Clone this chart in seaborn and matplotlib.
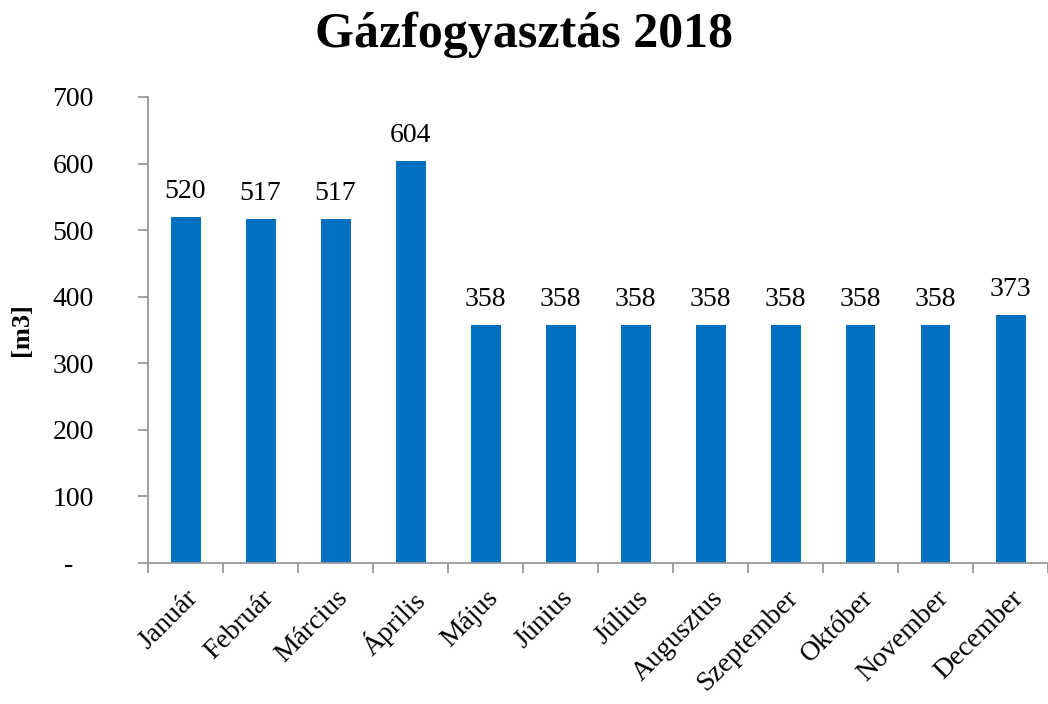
import matplotlib
matplotlib.use("Agg")
import matplotlib.pyplot as plt
import seaborn as sns
import pandas as pd
import numpy as np

months = ["Január", "Február", "Március", "Április", "Május", "Június",
          "Július", "Augusztus", "Szeptember", "Október", "November", "December"]
values = [520, 517, 517, 604, 358, 358, 358, 358, 358, 358, 358, 373]
yticks = [0, 100, 200, 300, 400, 500, 600, 700]
ytick_labels = ["-   ", "100", "200", "300", "400", "500", "600", "700"]

sns.set_style("white")
plt.rcParams["font.family"] = ["Liberation Serif", "DejaVu Serif"]
plt.rcParams["text.color"] = "black"
plt.rcParams["xtick.labelcolor"] = "black"
plt.rcParams["ytick.labelcolor"] = "black"
plt.rcParams["axes.labelcolor"] = "black"

df = pd.DataFrame({"month": months, "value": values})

fig = plt.figure(figsize=(10.48, 7.04), dpi=100)
ax = fig.add_axes([148/1048, 141/704, 900/1048, 466/704])

sns.barplot(data=df, x="month", y="value", color="#0070C0", width=0.4,
            saturation=1, linewidth=0, ax=ax)

ax.set_ylim(0, 700)
ax.set_xlim(-0.5, 11.5)
ax.set_yticks(yticks)
ax.set_yticklabels(ytick_labels, fontsize=20)
ax.set_xticks(range(len(months)))
ax.set_xticklabels(months, fontsize=20, rotation=45, ha="right",
                   rotation_mode="anchor")
ax.set_xticks(np.arange(-0.5, 12, 1), minor=True)
ax.tick_params(axis="x", which="major", length=0, pad=16)
ax.tick_params(axis="x", which="minor", length=7, width=1.3, color="#999999",
               direction="out", bottom=True)
ax.tick_params(axis="y", which="major", length=7, width=1.3, color="#999999",
               direction="out", left=True, pad=32)

for s in ["top", "right"]:
    ax.spines[s].set_visible(False)
for s in ["left", "bottom"]:
    ax.spines[s].set_color("#999999")
    ax.spines[s].set_linewidth(1.3)

ax.set_xlabel("")
ax.set_ylabel("[m3]", fontsize=19, fontweight="bold")
ax.yaxis.set_label_coords(-0.128, 0.5)

for c in ax.containers:
    ax.bar_label(c, labels=[str(v) for v in values], padding=9, fontsize=20)

fig.suptitle("Gázfogyasztás 2018", fontsize=36, fontweight="bold", y=0.983)

fig.savefig("out.png", dpi=100)
